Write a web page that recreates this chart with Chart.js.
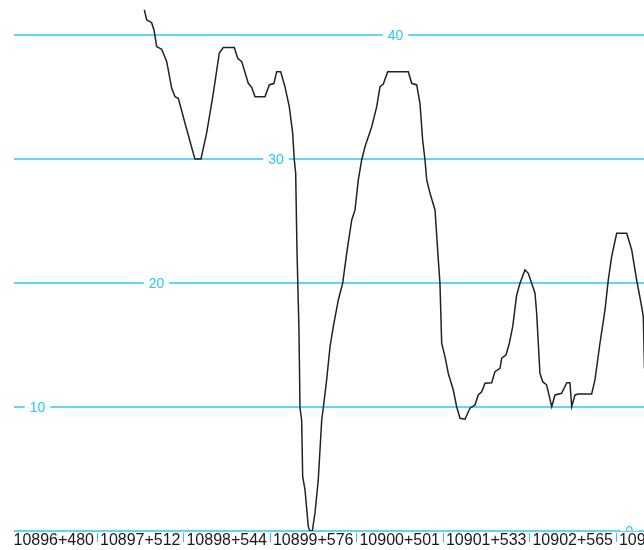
<!DOCTYPE html>
<html>
<head>
<meta charset="utf-8">
<script src="https://cdn.jsdelivr.net/npm/chart.js@4/dist/chart.umd.min.js"></script>
<style>
  html, body { margin: 0; padding: 0; background: #fff; }
  canvas { display: block; }
</style>
</head>
<body>
<canvas id="chart" width="644" height="550"></canvas>
<script>
// position along the section, 1 unit = one chainage label
const stations = [
  1.547, 1.575, 1.632, 1.659, 1.690, 1.748, 1.806, 1.864, 1.902,
  1.940, 2.017, 2.113, 2.133, 2.202, 2.268, 2.345, 2.414, 2.460, 2.587,
  2.627, 2.673, 2.749, 2.788, 2.827, 2.942, 2.992, 3.046, 3.077, 3.124,
  3.173, 3.223, 3.262, 3.281, 3.297, 3.312, 3.335, 3.347, 3.366, 3.378,
  3.405, 3.443, 3.462, 3.489, 3.520, 3.558, 3.598, 3.616, 3.655, 3.694,
  3.732, 3.790, 3.840, 3.887, 3.945, 3.983, 4.021, 4.060, 4.098, 4.176,
  4.234, 4.272, 4.310, 4.361, 4.599, 4.638, 4.696, 4.734, 4.765, 4.792,
  4.812, 4.850, 4.908, 4.946, 4.965, 4.985, 5.023, 5.061, 5.119, 5.158,
  5.197, 5.254, 5.312, 5.370, 5.408, 5.447, 5.486, 5.563, 5.601, 5.659,
  5.679, 5.728, 5.767, 5.806, 5.852, 5.890, 5.948, 5.986, 6.064, 6.083,
  6.121, 6.153, 6.199, 6.257, 6.295, 6.372, 6.431, 6.468, 6.488, 6.526,
  6.564, 6.719, 6.757, 6.815, 6.873, 6.911, 6.950, 7.008, 7.124, 7.182,
  7.239, 7.297, 7.316, 7.330
]
const values = [
  42.02, 41.21, 40.99, 40.40, 39.06, 38.85, 37.85, 35.70, 35.02,
  34.90, 32.90, 30.46, 30.00, 30.00, 32.10, 35.32, 38.55, 38.98, 38.98,
  38.12, 37.85, 36.10, 35.78, 35.02, 35.02, 35.97, 36.10, 37.04, 37.04,
  35.83, 34.22, 32.10, 29.92, 28.87, 22.66, 16.21, 9.92, 8.95, 4.38,
  3.31, 0.35, 0.00, 0.00, 1.45, 4.11, 8.95, 9.92, 12.18, 14.86,
  16.48, 18.63, 19.97, 22.40, 25.08, 25.89, 28.31, 29.92, 30.99, 32.60,
  34.22, 35.83, 36.05, 37.04, 37.04, 36.10, 35.97, 34.49, 31.53, 29.92,
  28.31, 27.23, 25.89, 21.85, 19.97, 15.14, 14.06, 12.72, 11.37, 10.02,
  9.09, 9.01, 9.90, 10.16, 10.97, 11.23, 11.91, 11.96, 12.85, 13.12,
  13.93, 14.19, 15.14, 16.48, 19.03, 19.97, 21.05, 20.78, 19.17, 17.56,
  12.72, 12.04, 11.77, 10.02, 10.97, 11.10, 11.96, 11.96, 10.02, 10.97,
  11.05, 11.05, 12.18, 15.14, 17.82, 20.24, 22.12, 24.01, 24.01, 22.66,
  20.24, 18.09, 17.28, 13.10
]
const chainages = [
  '10896+480', '10897+512', '10898+544', '10899+576',
  '10900+501', '10901+533', '10902+565', '10903+597'
]
const yTicks = [0, 10, 20, 30, 40]

const GRID = '#2cc6f4'
const FONT = '"Liberation Sans", Arial, sans-serif'

// staggered value labels sitting on the grid lines
const yLabelX = [629.5, 37.5, 156.5, 276, 395.5]

const gridPlugin = {
  id: 'sectionGrid',
  beforeDatasetsDraw(chart) {
    const { ctx, chartArea, scales: { y } } = chart
    ctx.save()
    ctx.beginPath()
    ctx.rect(0, 0, chart.width, chartArea.bottom + 2)
    ctx.clip()
    ctx.strokeStyle = GRID
    ctx.lineWidth = 1.5
    yTicks.forEach(v => {
      const py = y.getPixelForValue(v)
      ctx.beginPath()
      ctx.moveTo(14, py)
      ctx.lineTo(chartArea.right, py)
      ctx.stroke()
    })
    ctx.restore()

    // labels, cut at the bottom of the plot like the original
    ctx.save()
    ctx.beginPath()
    ctx.rect(0, 0, chart.width, chartArea.bottom)
    ctx.clip()
    ctx.font = '14px ' + FONT
    ctx.textAlign = 'center'
    ctx.textBaseline = 'middle'
    yTicks.forEach((v, i) => {
      const py = y.getPixelForValue(v)
      const txt = String(v)
      const w = ctx.measureText(txt).width
      ctx.fillStyle = '#fff'
      ctx.fillRect(yLabelX[i] - w / 2 - 5, py - 3, w + 10, 6)
      ctx.fillStyle = GRID
      ctx.fillText(txt, yLabelX[i], py + 1)
    })
    ctx.restore()
  },
  afterDraw(chart) {
    const { ctx, chartArea, scales: { x } } = chart
    ctx.save()
    ctx.strokeStyle = GRID
    ctx.lineWidth = 1
    for (let k = 1; k < chainages.length; k++) {
      const px = Math.round(x.getPixelForValue(k)) + 0.5
      ctx.beginPath()
      ctx.moveTo(px, chartArea.bottom + 2)
      ctx.lineTo(px, chartArea.bottom + 11)
      ctx.stroke()
    }
    ctx.font = '16px ' + FONT
    ctx.fillStyle = '#1a1a1a'
    ctx.textAlign = 'center'
    ctx.textBaseline = 'middle'
    chainages.forEach((lab, k) => {
      ctx.fillText(lab, x.getPixelForValue(k + 0.5), chartArea.bottom + 10)
    })
    ctx.restore()
  }
}

const ctx = document.getElementById('chart').getContext('2d')
new Chart(ctx, {
  type: 'line',
  data: {
    datasets: [
      {
        data: stations.map((s, i) => ({ x: s, y: values[i] })),
        borderColor: '#222',
        borderWidth: 1.5,
        pointRadius: 0,
        tension: 0,
        fill: false
      }
    ]
  },
  options: {
    responsive: false,
    animation: false,
    layout: { padding: { left: 10.5, top: 0, right: 0, bottom: 19 } },
    plugins: {
      legend: { display: false },
      tooltip: { enabled: false }
    },
    scales: {
      x: { type: 'linear', display: false, min: 0, max: 7.324 },
      y: { display: false, min: 0, max: 42.82 }
    }
  },
  plugins: [gridPlugin]
})
</script>
</body>
</html>
